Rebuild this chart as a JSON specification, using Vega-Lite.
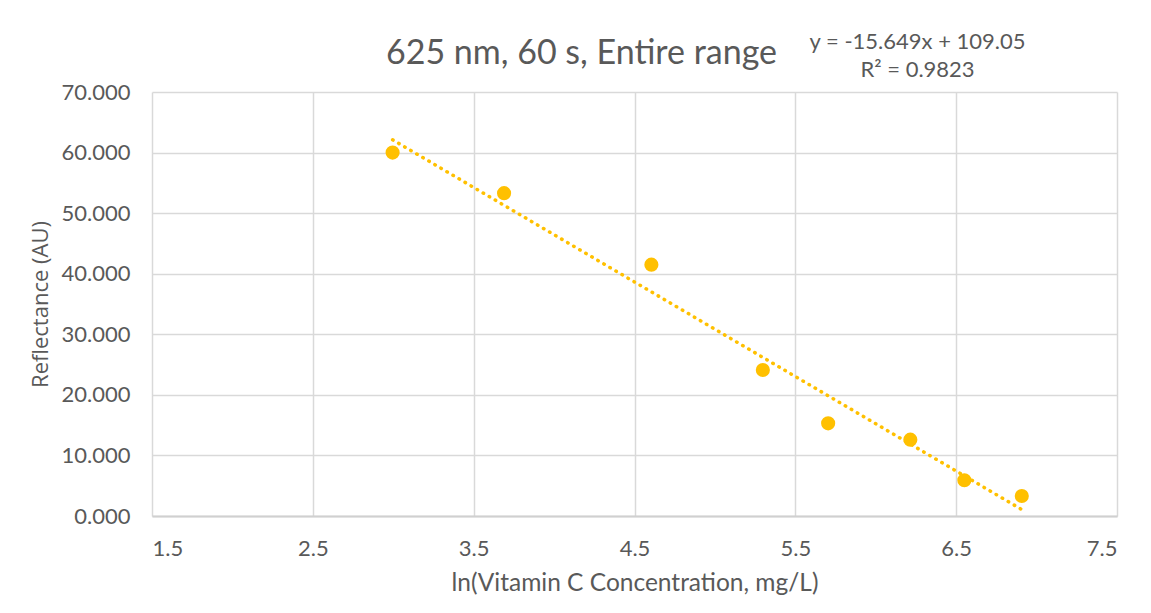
{
  "$schema": "https://vega.github.io/schema/vega-lite/v6.json",
  "autosize": {"type": "none"},
  "width": 965,
  "height": 424,
  "padding": {"left": 152, "top": 92, "right": 34, "bottom": 97},
  "background": "#ffffff",
  "title": {
    "text": "625 nm, 60 s, Entire range",
    "anchor": "middle",
    "dx": -53,
    "offset": -74,
    "baseline": "bottom",
    "font": "Lato",
    "fontSize": 34,
    "fontWeight": "normal",
    "color": "#595959"
  },
  "config": {
    "view": {"stroke": null},
    "axis": {
      "labelFont": "Lato",
      "labelFontSize": 22,
      "labelColor": "#595959",
      "titleColor": "#595959",
      "titleFontWeight": "normal",
      "gridColor": "#D9D9D9",
      "gridWidth": 1.5,
      "ticks": false,
      "domain": false
    }
  },
  "data": {
    "values": [
      {"lnC": 2.996, "R": 60.0},
      {"lnC": 3.689, "R": 53.3},
      {"lnC": 4.605, "R": 41.5},
      {"lnC": 5.298, "R": 24.1},
      {"lnC": 5.704, "R": 15.3},
      {"lnC": 6.215, "R": 12.6},
      {"lnC": 6.551, "R": 5.9},
      {"lnC": 6.908, "R": 3.3}
    ]
  },
  "layer": [
    {
      "mark": {"type": "point", "filled": true, "size": 200, "color": "#FFC000", "opacity": 1},
      "encoding": {
        "x": {
          "field": "lnC", "type": "quantitative",
          "scale": {"domain": [1.5, 7.5], "nice": false, "zero": false},
          "axis": {
            "values": [1.5, 2.5, 3.5, 4.5, 5.5, 6.5, 7.5],
            "format": ".1f",
            "labelPadding": 22,
            "title": "ln(Vitamin C Concentration, mg/L)",
            "titleFont": "Lato",
            "titleFontSize": 24.5,
            "titlePadding": 12,
            "domain": true,
            "domainColor": "#D0D0D0",
            "domainWidth": 2
          }
        },
        "y": {
          "field": "R", "type": "quantitative",
          "scale": {"domain": [0, 70], "nice": false},
          "axis": {
            "values": [0, 10, 20, 30, 40, 50, 60, 70],
            "format": ".3f",
            "labelPadding": 22,
            "title": "Reflectance (AU)",
            "titleFont": "Open Sans",
            "titleFontSize": 22,
            "titlePadding": 9
          }
        }
      }
    },
    {
      "transform": [{"regression": "R", "on": "lnC"}],
      "mark": {"type": "line", "color": "#FFC000", "strokeWidth": 3.5, "strokeCap": "round", "strokeDash": [0.5, 6.5]},
      "encoding": {
        "x": {"field": "lnC", "type": "quantitative"},
        "y": {"field": "R", "type": "quantitative"}
      }
    },
    {
      "data": {"values": [{}]},
      "mark": {"type": "text", "font": "Lato", "fontSize": 22, "fontWeight": "normal", "color": "#595959", "align": "center", "baseline": "middle"},
      "encoding": {
        "x": {"datum": 6.26, "type": "quantitative"},
        "y": {"datum": 78.3, "type": "quantitative"},
        "text": {"value": "y = -15.649x + 109.05"}
      }
    },
    {
      "data": {"values": [{}]},
      "mark": {"type": "text", "font": "Lato", "fontSize": 22, "fontWeight": "normal", "color": "#595959", "align": "center", "baseline": "middle"},
      "encoding": {
        "x": {"datum": 6.26, "type": "quantitative"},
        "y": {"datum": 73.6, "type": "quantitative"},
        "text": {"value": "R² = 0.9823"}
      }
    }
  ]
}
